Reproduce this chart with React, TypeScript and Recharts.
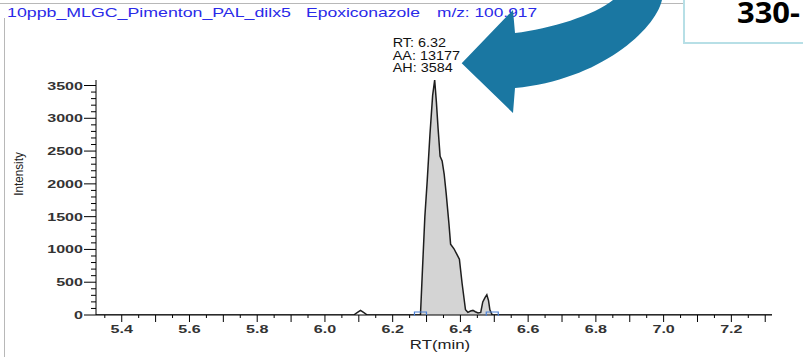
import React from "react";
import {
  Area,
  ComposedChart,
  Line,
  ReferenceDot,
  XAxis,
  YAxis,
} from "recharts";

// retention time (min) and detector intensity
const rt = [
  5.324, 6.085, 6.095, 6.105, 6.115, 6.125, 6.282, 6.288, 6.295, 6.302,
  6.31, 6.318, 6.324, 6.329, 6.334, 6.34, 6.346, 6.352, 6.358, 6.366,
  6.371, 6.381, 6.39, 6.397, 6.405, 6.415, 6.422, 6.43, 6.437, 6.444,
  6.452, 6.46, 6.466, 6.473, 6.478, 6.483, 6.487, 6.494, 7.32,
];
const intensity = [
  0, 0, 35, 70, 35, 0, 0, 700, 1500, 2050,
  2750, 3350, 3584, 3250, 2850, 2420, 2350, 2150, 1850, 1400,
  1080, 1010, 920, 850, 480, 80, 40, 60, 70, 50,
  30, 40, 200, 270, 310, 220, 80, 0, 0,
];

const peakStart = 6.282;
const peakEnd = 6.494;
const peakApex = { rt: 6.324, height: 3584 };
const peakInfo = ["RT: 6.32", "AA: 13177", "AH: 3584"];

const xLabelTicks = [5.4, 5.6, 5.8, 6.0, 6.2, 6.4, 6.6, 6.8, 7.0, 7.2];
const yLabelTicks = [0, 500, 1000, 1500, 2000, 2500, 3000, 3500];

const titleParts = ["10ppb_MLGC_Pimenton_PAL_dilx5", "Epoxiconazole", "m/z: 100.917"];

// minor ticks every 0.05 min and every 100 counts
const xTicks = Array.from({ length: 40 }, (_, i) => +(5.35 + i * 0.05).toFixed(2));
const yTicks = Array.from({ length: 36 }, (_, i) => i * 100);

const data = rt.map((t, i) => ({
  rt: t,
  intensity: intensity[i],
  peak: t >= peakStart && t <= peakEnd ? intensity[i] : null,
}));

const FONT = "'Liberation Sans', Arial, sans-serif";

const XTick = (props: any) => {
  const { x, y, payload } = props;
  const v = payload.value;
  const labelled = xLabelTicks.some((t) => Math.abs(t - v) < 1e-6);
  const tenth = Math.abs(v * 10 - Math.round(v * 10)) < 1e-6;
  return (
    <g>
      <line x1={x} x2={x} y1={y} y2={y + (tenth ? 7 : 3)} stroke="#000" />
      {labelled && (
        <text
          transform={`translate(${x},${y + 18}) scale(1.4,1)`}
          textAnchor="middle"
          fontFamily={FONT}
          fontSize={11.5}
          fontWeight="bold"
          fill="#333"
        >
          {v.toFixed(1)}
        </text>
      )}
    </g>
  );
};

const YTick = (props: any) => {
  const { x, y, payload } = props;
  const v = payload.value;
  const major = yLabelTicks.includes(v);
  return (
    <g>
      <line x1={x - (major ? 12 : 5)} x2={x} y1={y} y2={y} stroke="#000" />
      {major && (
        <text
          transform={`translate(${x - 13},${y + 4}) scale(1.4,1)`}
          textAnchor="end"
          fontFamily={FONT}
          fontSize={11.5}
          fontWeight="bold"
          fill="#333"
        >
          {v}
        </text>
      )}
    </g>
  );
};

const Bracket = (props: any) => {
  const { cx, cy } = props;
  return (
    <path
      d={`M${cx - 6},${cy + 1} L${cx - 6},${cy - 3} L${cx + 6},${cy - 3} L${cx + 6},${cy + 1}`}
      fill="none"
      stroke="#4a80d4"
      strokeWidth={1.2}
    />
  );
};

const PeakLabel = (props: any) => {
  const { cx, cy } = props;
  return (
    <g fontFamily={FONT} fontSize={12} fill="#111">
      {peakInfo.map((s, i) => (
        <text key={s} transform={`translate(${cx - 42},${cy - 33 + i * 12.5}) scale(1.2,1)`}>
          {s}
        </text>
      ))}
    </g>
  );
};

export default function App() {
  return (
    <div style={{ position: "absolute", left: 0, top: 0, width: 803, height: 357, background: "#fff" }}>
      <ComposedChart
        width={803}
        height={357}
        data={data}
        margin={{ top: 80, right: 31, bottom: 12, left: 0 }}
      >
        <XAxis
          dataKey="rt"
          type="number"
          domain={[5.324, 7.32]}
          allowDataOverflow
          ticks={xTicks}
          interval={0}
          tick={<XTick />}
          tickLine={false}
          tickSize={0}
          tickMargin={0}
          height={30}
          axisLine={{ stroke: "#000" }}
          label={(p: any) => {
            const vb = p.viewBox;
            return (
              <text
                transform={`translate(${vb.x + vb.width / 2 + 6},${349}) scale(1.4,1)`}
                textAnchor="middle"
                fontFamily={FONT}
                fontSize={12}
                fill="#222"
              >
                RT(min)
              </text>
            );
          }}
        />
        <YAxis
          type="number"
          domain={[0, 3584]}
          allowDataOverflow
          ticks={yTicks}
          interval={0}
          tick={<YTick />}
          tickLine={false}
          tickSize={0}
          tickMargin={0}
          width={96}
          axisLine={{ stroke: "#000" }}
          label={() => (
            <text
              transform="translate(23,174) rotate(-90) scale(0.9,1)"
              textAnchor="middle"
              fontFamily={FONT}
              fontSize={13}
              fill="#222"
            >
              Intensity
            </text>
          )}
        />
        <Area
          dataKey="peak"
          type="linear"
          fill="#d4d4d4"
          fillOpacity={1}
          stroke="none"
          baseValue={0}
          isAnimationActive={false}
        />
        <Line
          dataKey="intensity"
          type="linear"
          stroke="#1e1e1e"
          strokeWidth={1.5}
          dot={false}
          isAnimationActive={false}
        />
        <ReferenceDot x={peakStart} y={0} shape={<Bracket />} ifOverflow="visible" />
        <ReferenceDot x={peakEnd} y={0} shape={<Bracket />} ifOverflow="visible" />
        <ReferenceDot x={peakApex.rt} y={peakApex.height} shape={<PeakLabel />} ifOverflow="visible" />
      </ComposedChart>
      <svg
        width={803}
        height={357}
        style={{ position: "absolute", left: 0, top: 0, pointerEvents: "none" }}
      >
        <line x1={0} y1={3.5} x2={684} y2={3.5} stroke="#b8b8b8" />
        <line x1={4.5} y1={18} x2={4.5} y2={357} stroke="#b8b8b8" />
        <g fontFamily={FONT} fontSize={13} fill="#2a2ae8">
          <text x={7} y={16.5} textLength={284} lengthAdjust="spacingAndGlyphs">{titleParts[0]}</text>
          <text x={306} y={16.5} textLength={114} lengthAdjust="spacingAndGlyphs">{titleParts[1]}</text>
          <text x={437} y={16.5} textLength={100} lengthAdjust="spacingAndGlyphs">{titleParts[2]}</text>
        </g>
        <path
          d="M461.7,63.3 L513,10 L515,33 C550,29 595,15 613,0 L662,0 C655,30 600,80 515,88 L513,113 Z"
          fill="#1a77a2"
        />
        <rect x={684} y={-4} width={130} height={47} fill="#fff" stroke="#b7dfe6" strokeWidth={2} />
        <text
          x={737}
          y={23}
          textLength={63}
          lengthAdjust="spacingAndGlyphs"
          fontFamily="'Open Sans', 'Noto Sans', sans-serif"
          fontWeight="bold"
          fontSize={29}
          fill="#000"
        >
          330-
        </text>
      </svg>
    </div>
  );
}
